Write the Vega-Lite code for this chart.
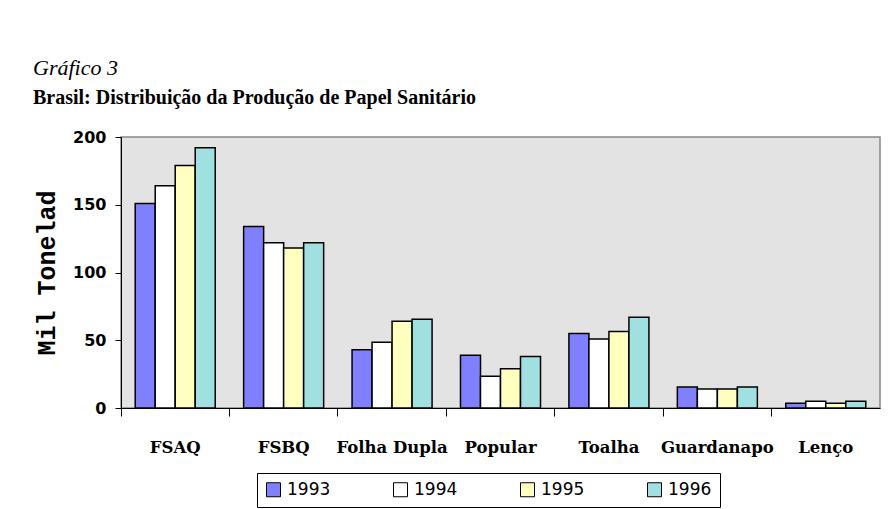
{
  "$schema": "https://vega.github.io/schema/vega-lite/v6.json",
  "width": 759,
  "height": 271,
  "autosize": {"type": "none"},
  "padding": {"left": 121, "top": 137, "right": 10, "bottom": 101},
  "background": "white",
  "title": {
    "text": "Gráfico 3",
    "subtitle": "Brasil: Distribuição da Produção de Papel Sanitário",
    "anchor": "start",
    "frame": "group",
    "dx": -88,
    "font": "Liberation Serif",
    "fontStyle": "italic",
    "fontWeight": "normal",
    "fontSize": 22,
    "color": "black",
    "subtitleFont": "Liberation Serif",
    "subtitleFontWeight": "bold",
    "subtitleFontSize": 20,
    "subtitleColor": "black",
    "subtitlePadding": 8,
    "offset": 20
  },
  "data": {
    "values": [
      {"cat": "FSAQ", "year": "1993", "value": 151},
      {"cat": "FSAQ", "year": "1994", "value": 164},
      {"cat": "FSAQ", "year": "1995", "value": 179},
      {"cat": "FSAQ", "year": "1996", "value": 192},
      {"cat": "FSBQ", "year": "1993", "value": 134},
      {"cat": "FSBQ", "year": "1994", "value": 122},
      {"cat": "FSBQ", "year": "1995", "value": 118},
      {"cat": "FSBQ", "year": "1996", "value": 122},
      {"cat": "Folha Dupla", "year": "1993", "value": 43},
      {"cat": "Folha Dupla", "year": "1994", "value": 48.5},
      {"cat": "Folha Dupla", "year": "1995", "value": 64},
      {"cat": "Folha Dupla", "year": "1996", "value": 65.5},
      {"cat": "Popular", "year": "1993", "value": 39},
      {"cat": "Popular", "year": "1994", "value": 23.5},
      {"cat": "Popular", "year": "1995", "value": 29},
      {"cat": "Popular", "year": "1996", "value": 38},
      {"cat": "Toalha", "year": "1993", "value": 55},
      {"cat": "Toalha", "year": "1994", "value": 51},
      {"cat": "Toalha", "year": "1995", "value": 56.5},
      {"cat": "Toalha", "year": "1996", "value": 67},
      {"cat": "Guardanapo", "year": "1993", "value": 15.5},
      {"cat": "Guardanapo", "year": "1994", "value": 14},
      {"cat": "Guardanapo", "year": "1995", "value": 14},
      {"cat": "Guardanapo", "year": "1996", "value": 15.5},
      {"cat": "Lenço", "year": "1993", "value": 3.5},
      {"cat": "Lenço", "year": "1994", "value": 5},
      {"cat": "Lenço", "year": "1995", "value": 3.5},
      {"cat": "Lenço", "year": "1996", "value": 5}
    ]
  },
  "mark": {"type": "bar", "stroke": "black", "strokeWidth": 1.5},
  "encoding": {
    "x": {
      "field": "cat",
      "type": "nominal",
      "sort": ["FSAQ", "FSBQ", "Folha Dupla", "Popular", "Toalha", "Guardanapo", "Lenço"],
      "scale": {"paddingInner": 0, "paddingOuter": 0},
      "axis": {
        "title": null,
        "bandPosition": 0,
        "labelAngle": 0,
        "tickSize": 8,
        "tickColor": "black",
        "domainColor": "black",
        "labelFont": "DejaVu Serif",
        "labelFontWeight": "bold",
        "labelFontSize": 16.5,
        "labelColor": "black",
        "labelPadding": 23
      }
    },
    "xOffset": {
      "field": "year",
      "type": "nominal",
      "scale": {"paddingInner": 0, "paddingOuter": 0.71}
    },
    "y": {
      "field": "value",
      "type": "quantitative",
      "scale": {"domain": [0, 200]},
      "axis": {
        "values": [0, 50, 100, 150, 200],
        "grid": false,
        "title": "Mil Tonelad",
        "titleFont": "Liberation Mono",
        "titleFontWeight": "bold",
        "titleFontSize": 25,
        "titleColor": "black",
        "titlePadding": 13,
        "tickSize": 6,
        "tickColor": "black",
        "domainColor": "black",
        "labelFont": "DejaVu Sans",
        "labelFontWeight": "bold",
        "labelFontSize": 16,
        "labelColor": "black",
        "labelPadding": 9
      }
    },
    "color": {
      "field": "year",
      "type": "nominal",
      "scale": {"domain": ["1993", "1994", "1995", "1996"], "range": ["#8080FF", "#FFFFFF", "#FFFFC0", "#A0E0E0"]},
      "legend": {
        "orient": "none",
        "legendX": 136,
        "legendY": 336,
        "direction": "horizontal",
        "title": null,
        "symbolType": "square",
        "symbolSize": 196,
        "symbolStrokeColor": "black",
        "symbolStrokeWidth": 1,
        "symbolOpacity": 1,
        "labelFont": "DejaVu Sans",
        "labelFontSize": 17,
        "labelColor": "black",
        "labelOffset": 5,
        "columnPadding": 60,
        "strokeColor": "black",
        "fillColor": "white",
        "padding": 8
      }
    }
  },
  "config": {
    "view": {"fill": "#E3E3E3", "stroke": "#888888", "strokeWidth": 1.5}
  }
}
